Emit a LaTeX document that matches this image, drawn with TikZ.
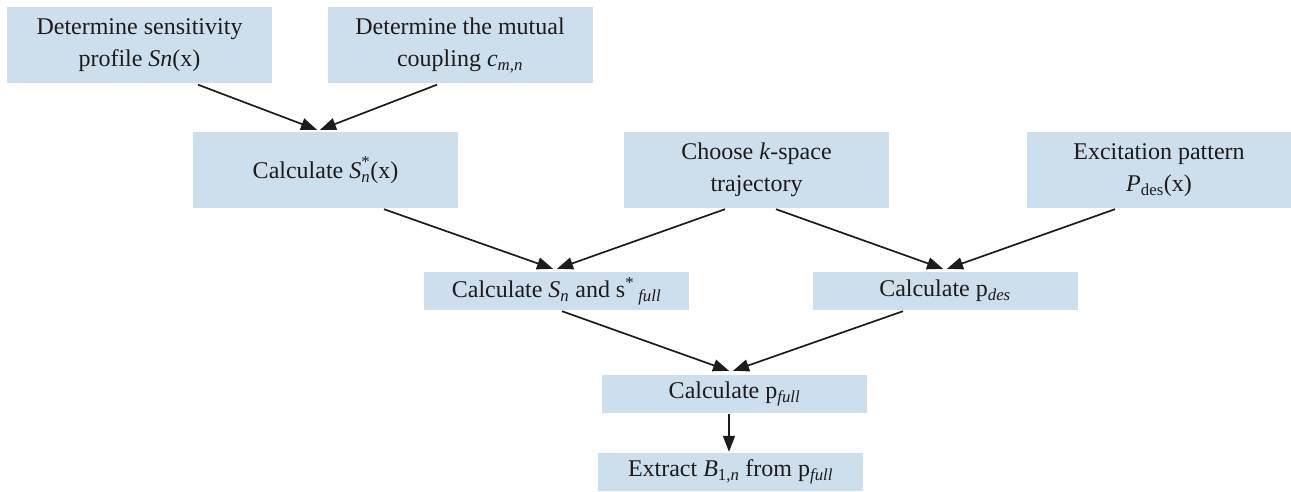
\documentclass[tikz,border=0pt]{standalone}
\usepackage{fontspec}
\setmainfont{Liberation Serif}
\usetikzlibrary{arrows.meta}
\definecolor{boxblue}{RGB}{205,222,237}
\definecolor{arrowc}{RGB}{30,27,28}
\newcommand{\sbi}[1]{\textsubscript{\textit{#1}}}
\begin{document}
\begin{tikzpicture}[x=1pt,y=-1pt,
  box/.style={fill=boxblue, draw=none, minimum width=265pt, inner sep=0pt, align=center,
    text=arrowc, font=\fontsize{24}{32}\selectfont},
  tall/.style={box, minimum height=76pt},
  short/.style={box, minimum height=38pt},
  conn/.style={draw=arrowc, line width=1.7pt, -{Triangle[length=16pt,width=12pt]}}]
\useasboundingbox (0,0) rectangle (1291,492);
\node[tall] (sens) at (139.5,45.5) {Determine sensitivity\\profile \textit{Sn}(x)};
\node[tall] (coup) at (460,45.5) {Determine the mutual\\coupling \textit{c}\sbi{m,n}};
\node[tall] (calc) at (325.5,170) {Calculate \textit{S}\makebox[0pt][l]{\raisebox{2pt}{\textsuperscript{*}}}\sbi{n}(x)};
\node[tall] (traj) at (756.5,170) {Choose \textit{k}-space\\trajectory};
\node[tall] (exc) at (1159,170) {Excitation pattern\\\textit{P}\textsubscript{des}(x)};
\node[short] (sn) at (556.5,291) {Calculate \textit{S}\sbi{n} and s\textsuperscript{*}\,\sbi{full}};
\node[short] (pdes) at (945,291) {Calculate p\sbi{des}};
\node[short] (pfull) at (734.5,394) {Calculate p\sbi{full}};
\node[short] (extr) at (730.5,472) {Extract \textit{B}\textsubscript{1,\textit{n}} from p\sbi{full}};
\draw[conn] ([xshift=58.5pt,yshift=-1pt]sens.south) -- ([xshift=-8.5pt,yshift=2pt]calc.north);
\draw[conn] ([xshift=-23pt,yshift=-1pt]coup.south) -- ([xshift=-5.5pt,yshift=2pt]calc.north);
\draw[conn] ([xshift=58.5pt,yshift=-1pt]calc.south) -- ([xshift=-3.5pt,yshift=3pt]sn.north);
\draw[conn] ([xshift=-31.5pt,yshift=-1pt]traj.south) -- ([xshift=0.5pt,yshift=3pt]sn.north);
\draw[conn] ([xshift=19.5pt,yshift=-1pt]traj.south) -- ([xshift=-2pt,yshift=3pt]pdes.north);
\draw[conn] ([xshift=-44pt,yshift=-1pt]exc.south) -- ([xshift=2pt,yshift=3pt]pdes.north);
\draw[conn] ([xshift=5.5pt,yshift=-1pt]sn.south) -- ([xshift=-5.5pt,yshift=4pt]pfull.north);
\draw[conn] ([xshift=-42pt,yshift=-1pt]pdes.south) -- ([xshift=-1.5pt,yshift=4pt]pfull.north);
\draw[conn] ([xshift=-5.5pt,yshift=-1pt]pfull.south) -- ([xshift=-1.5pt,yshift=1pt]extr.north);
\end{tikzpicture}
\end{document}
